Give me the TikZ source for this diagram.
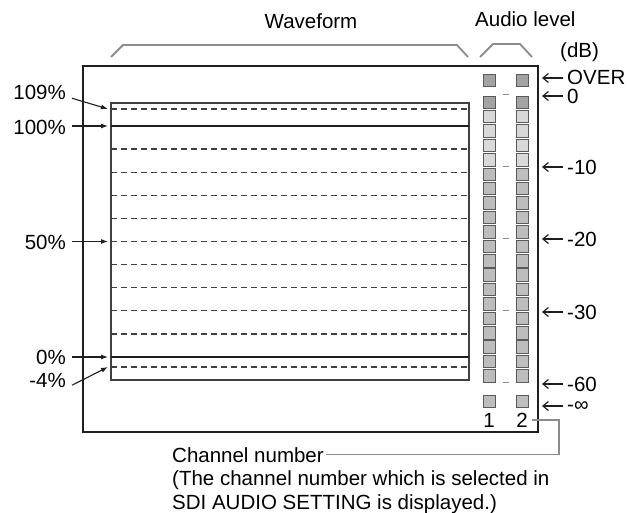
\documentclass[tikz,border=0pt]{standalone}
\usepackage{fontspec}
\setmainfont{Liberation Sans}
\usetikzlibrary{arrows.meta}
\definecolor{brk}{HTML}{8C8C8C}
\definecolor{frm}{HTML}{1E1E1E}
\definecolor{sqdark}{HTML}{A3A3A3}
\definecolor{sqlight}{HTML}{D9D9D9}
\definecolor{sqmid}{HTML}{BDBDBD}
\definecolor{sqline}{HTML}{5A5A5A}
\tikzset{
  lbl/.style={inner sep=0pt, font=\fontsize{20.5}{24}\selectfont, text=black},
  bracketline/.style={draw=brk, line width=1.8pt, line join=round},
  frameline/.style={draw=frm, line width=2.5pt},
  boxline/.style={draw=frm!85, line width=1.1pt},
  solidref/.style={draw=frm, line width=1.9pt},
  dashref/.style={draw=frm!85, line width=1.2pt, dash pattern=on 6pt off 4pt},
  larrow/.style={draw=frm, line width=1.1pt, -{Latex[length=7pt,width=5pt]}},
  rarrow/.style={draw=frm, line width=1.2pt, -{Straight Barb[length=5.5pt,width=9pt]}},
  meterbox/.style={draw=sqline, line width=0.8pt},
  tickmark/.style={draw=brk, line width=1pt},
  callout/.style={draw=brk, line width=1.6pt},
}
\begin{document}
\begin{tikzpicture}[x=1pt, y=-1pt]
\useasboundingbox (0,0) rectangle (629,513);

% top labels and brackets
\node[lbl, anchor=base] (wf) at (311,29) {Waveform};
\node[lbl, anchor=base west] (al) at (475,27) {Audio level};
\node[lbl, anchor=base west] (db) at (560,58) {(dB)};
\draw[bracketline] (111,57) -- (123,45) -- (457,45) -- (468,57);
\draw[bracketline] (480,57) -- (493,44) -- (520,44) -- (532,57);

% outer frame
\draw[frameline] (83,66) rectangle (538,432);

% waveform box
\draw[boxline] (111,103) rectangle (469,380);
\draw[dashref] (111,109) -- (469,109);
\draw[dashref] (111,367) -- (469,367);
\foreach \k in {1,...,9}{
  \draw[dashref] (111,{126+23.1*\k}) -- (469,{126+23.1*\k});
}
\draw[solidref] (111,126) -- (469,126);
\draw[solidref] (111,357) -- (469,357);

% left labels
\node[lbl, anchor=base east] (l109) at (66,99.3) {109\%};
\node[lbl, anchor=base east] (l100) at (66,134.3) {100\%};
\node[lbl, anchor=base east] (l50) at (66,249) {50\%};
\node[lbl, anchor=base east] (l0) at (66,364.3) {0\%};
\node[lbl, anchor=base east] (lm4) at (66,387.3) {-4\%};
\coordinate (t109) at (108,109);
\coordinate (t100) at (108,126);
\coordinate (t50) at (108,241.5);
\coordinate (t0) at (108,357);
\coordinate (tm4) at (108,367);
\draw[larrow] ([shift={(6pt,-6pt)}]l109.east) -- (t109);
\draw[larrow] ([xshift=6pt]l100.east |- t100) -- (t100);
\draw[larrow] ([xshift=6pt]l50.east |- t50) -- (t50);
\draw[larrow] ([xshift=6pt]l0.east |- t0) -- (t0);
\draw[larrow] ([shift={(6pt,-5pt)}]lm4.east) -- (tm4);

% audio meter squares
\foreach \cx in {483,516}{
  \draw[meterbox, fill=sqdark] (\cx,74) rectangle ++(12.5,12.5);
  \draw[meterbox, fill=sqdark] (\cx,96) rectangle ++(12.5,12.5);
  \foreach \k in {1,...,4}{
    \draw[meterbox, fill=sqlight] (\cx,{96+14.4*\k}) rectangle ++(12.5,12.5);
  }
  \foreach \k in {5,...,19}{
    \draw[meterbox, fill=sqmid] (\cx,{96+14.4*\k}) rectangle ++(12.5,12.5);
  }
  \draw[meterbox, fill=sqmid] (\cx,395) rectangle ++(12.5,12.5);
}
\foreach \ty in {94.8,166.8,238.8,310.8,382.8}{
  \draw[tickmark] (503,\ty) -- (509,\ty);
}

% dB labels and arrows
\node[lbl, anchor=base west] (over) at (567,85) {OVER};
\node[lbl, anchor=base west] (d0) at (567,103.5) {0};
\node[lbl, anchor=base west] (d10) at (567,174.3) {-10};
\node[lbl, anchor=base west] (d20) at (567,246.3) {-20};
\node[lbl, anchor=base west] (d30) at (567,319.3) {-30};
\node[lbl, anchor=base west] (d60) at (567,391.3) {-60};
\node[lbl, anchor=west] (dinf) at (567,406.5) {-∞};
\foreach \n/\yy in {over/78, d0/96, d10/167, d20/239, d30/312, d60/384, dinf/406}{
  \coordinate (a\n) at (542,\yy);
  \draw[rarrow] ([xshift=-4pt]\n.west |- a\n) -- (a\n);
}

% channel numbers
\node[lbl, anchor=base] (ch1) at (489,427) {1};
\node[lbl, anchor=base] (ch2) at (522,427) {2};

% callout text
\node[lbl, anchor=base west] (cn) at (172,462) {Channel number};
\node[lbl, anchor=base west] (cn2) at (172,485.5) {(The channel number which is selected in};
\node[lbl, anchor=base west] (cn3) at (172,509) {SDI AUDIO SETTING is displayed.)};
\coordinate (cx) at (559,0);
\draw[callout] ([xshift=4pt]ch2.east) -| (cx |- cn.east) -- ([xshift=2pt]cn.east);
\end{tikzpicture}
\end{document}
